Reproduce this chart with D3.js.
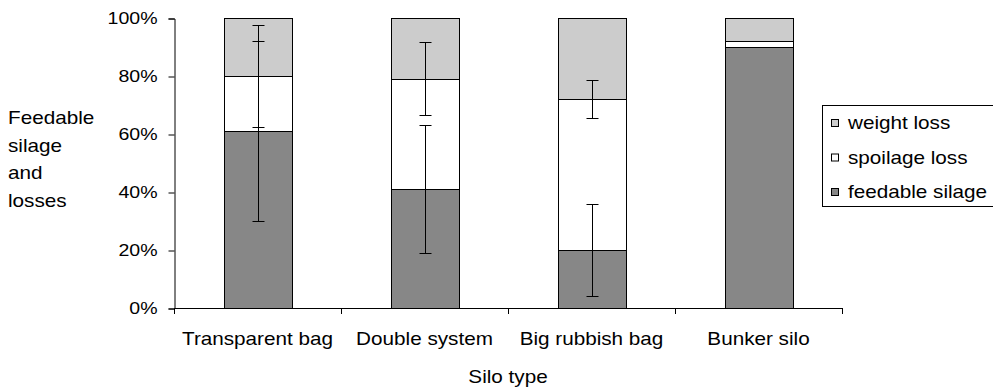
<!DOCTYPE html>
<html>
<head>
<meta charset="utf-8">
<script src="https://cdn.jsdelivr.net/npm/d3@7"></script>
<style>
  body { margin: 0; background: #fff; }
  text { font-family: "Liberation Sans", Arial, sans-serif; fill: #000; }
</style>
</head>
<body>
<svg id="chart" width="993" height="391"></svg>
<script>
var categories = ["Transparent bag", "Double system", "Big rubbish bag", "Bunker silo"];
var feedable = [61, 41, 20, 90];
var spoilage = [19, 38, 52, 2];
var weightLoss = [20, 21, 28, 8];
// error bars, +/- in percentage points (none for bunker silo)
var feedableErr = [31, 22, 16, null];
var spoilageErr = [17.5, 12.6, 6.6, null];
var yTicks = [0, 20, 40, 60, 80, 100];
var seriesNames = ["weight loss", "spoilage loss", "feedable silage"];

var feedGrey = "#878787";
var lossGrey = "#cccccc";
var white = "#ffffff";
var black = "#000";
var stretch = 1.15;

var svg = d3.select("#chart");

var plotLeft = 174, plotRight = 842, plotTop = 18, plotBottom = 308;

var x = d3.scaleBand()
    .domain(categories)
    .range([plotLeft, plotRight])
    .paddingInner(0.593)
    .paddingOuter(0.2965);

var y = d3.scaleLinear()
    .domain([0, 100])
    .range([plotBottom, plotTop]);

// stacked bars
var rows = categories.map(function (c, i) {
    return { cat: c, feedable: feedable[i], spoilage: spoilage[i], weight: weightLoss[i] };
});
var stack = d3.stack().keys(["feedable", "spoilage", "weight"]);
var layers = stack(rows);
var fills = { feedable: feedGrey, spoilage: white, weight: lossGrey };

svg.append("g").selectAll("g")
    .data(layers)
    .join("g")
    .attr("fill", function (d) { return fills[d.key]; })
    .selectAll("rect")
    .data(function (d) { return d; })
    .join("rect")
    .attr("x", function (d) { return Math.round(x(d.data.cat)) + 0.5; })
    .attr("y", function (d) { return Math.round(y(d[1])) + 0.5; })
    .attr("width", Math.round(x.bandwidth()))
    .attr("height", function (d) { return Math.round(y(d[0])) - Math.round(y(d[1])); })
    .attr("stroke", black)
    .attr("stroke-width", 1);

// error bars
var errs = [];
categories.forEach(function (c, i) {
    if (feedableErr[i] != null) errs.push({ cat: c, mid: feedable[i], e: feedableErr[i] });
    if (spoilageErr[i] != null) errs.push({ cat: c, mid: feedable[i] + spoilage[i], e: spoilageErr[i] });
});
var eg = svg.append("g").attr("stroke", black).attr("stroke-width", 1);
errs.forEach(function (d) {
    var cx = Math.round(x(d.cat) + x.bandwidth() / 2) + 0.5;
    var y1 = Math.round(y(d.mid + d.e)) + 0.5;
    var y0 = Math.round(y(d.mid - d.e)) + 0.5;
    eg.append("line").attr("x1", cx).attr("x2", cx).attr("y1", y1).attr("y2", y0);
    eg.append("line").attr("x1", cx - 6).attr("x2", cx + 6).attr("y1", y1).attr("y2", y1);
    eg.append("line").attr("x1", cx - 6).attr("x2", cx + 6).attr("y1", y0).attr("y2", y0);
});

// y axis
var yAxis = svg.append("g")
    .attr("transform", "translate(" + (plotLeft + 0.5) + ",0.5)")
    .call(d3.axisLeft(y)
        .tickValues(yTicks)
        .tickSize(6)
        .tickPadding(11)
        .tickFormat(function (d) { return d + "%"; }));
yAxis.select(".domain").attr("stroke", black);
yAxis.selectAll(".tick line").attr("stroke", black);
yAxis.selectAll(".tick text")
    .attr("x", null)
    .attr("transform", "translate(-17,0) scale(" + stretch + ",1)")
    .style("font-size", "17px")
    .style("font-family", "Liberation Sans, Arial, sans-serif")
    .attr("fill", black);

// x axis: line plus ticks on category boundaries
var step = x.step();
var bounds = categories.map(function (c) { return x(c) - step * x.paddingInner() / 2; });
bounds.push(plotRight);
var xg = svg.append("g");
xg.append("line")
    .attr("x1", plotLeft).attr("x2", plotRight + 0.5)
    .attr("y1", plotBottom + 0.5).attr("y2", plotBottom + 0.5)
    .attr("stroke", black);
xg.selectAll("line.tk")
    .data(bounds)
    .join("line")
    .attr("class", "tk")
    .attr("x1", function (d) { return Math.round(d) + 0.5; })
    .attr("x2", function (d) { return Math.round(d) + 0.5; })
    .attr("y1", plotBottom)
    .attr("y2", plotBottom + 6)
    .attr("stroke", black);
xg.selectAll("text")
    .data(categories)
    .join("text")
    .attr("text-anchor", "middle")
    .attr("transform", function (d) {
        return "translate(" + (x(d) + x.bandwidth() / 2) + ",345) scale(" + stretch + ",1)";
    })
    .style("font-size", "18px")
    .text(function (d) { return d; });

// axis titles
svg.append("text")
    .attr("text-anchor", "middle")
    .attr("transform", "translate(" + ((plotLeft + plotRight) / 2) + ",383) scale(" + stretch + ",1)")
    .style("font-size", "18px")
    .text("Silo type");

var yTitle = ["Feedable", "silage", "and", "losses"];
svg.append("g").selectAll("text")
    .data(yTitle)
    .join("text")
    .attr("transform", function (d, i) { return "translate(8," + (124 + i * 27.7) + ") scale(" + stretch + ",1)"; })
    .style("font-size", "18px")
    .text(function (d) { return d; });

// legend (right edge runs past the picture, as in the original)
var lg = svg.append("g");
lg.append("rect")
    .attr("x", 822.5).attr("y", 105.5)
    .attr("width", 180).attr("height", 101)
    .attr("fill", white)
    .attr("stroke", black);
var legendFill = [lossGrey, white, feedGrey];
var items = lg.selectAll("g.item")
    .data(seriesNames)
    .join("g")
    .attr("class", "item")
    .attr("transform", function (d, i) { return "translate(0," + (123 + i * 34.5) + ")"; });
items.append("rect")
    .attr("x", 831.5).attr("y", -3.5)
    .attr("width", 7).attr("height", 7)
    .attr("fill", function (d, i) { return legendFill[i]; })
    .attr("stroke", black);
items.append("text")
    .attr("transform", "translate(848,6) scale(" + stretch + ",1)")
    .style("font-size", "18px")
    .text(function (d) { return d; });
</script>
</body>
</html>
